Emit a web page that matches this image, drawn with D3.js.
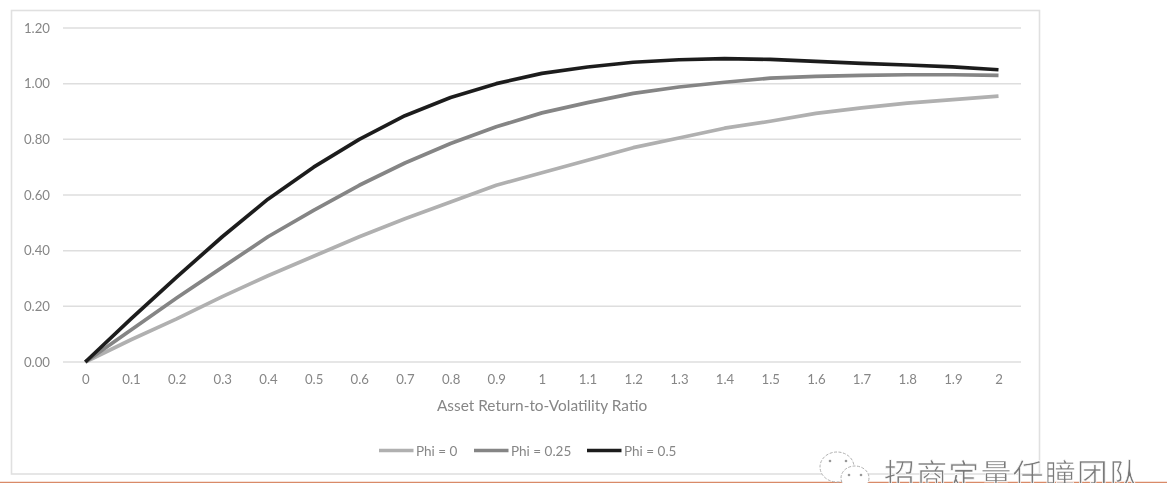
<!DOCTYPE html>
<html><head><meta charset="utf-8">
<script src="https://cdn.jsdelivr.net/npm/d3@7/dist/d3.min.js"></script>
<style>
html,body{margin:0;padding:0;background:#fff;overflow:hidden}
svg{display:block}
text{font-family:Lato,"Open Sans",sans-serif}
</style></head><body>
<svg id="c" width="1167" height="483"></svg>
<script>
const categories = ["0","0.1","0.2","0.3","0.4","0.5","0.6","0.7","0.8","0.9","1","1.1","1.2","1.3","1.4","1.5","1.6","1.7","1.8","1.9","2"];
const phi0 = [0,.08,.155,.235,.31,.38,.45,.515,.575,.635,.68,.725,.77,.805,.84,.865,.893,.913,.93,.943,.955];
const phi25 = [0,.115,.23,.34,.45,.545,.635,.715,.785,.845,.895,.932,.965,.988,1.005,1.02,1.026,1.03,1.032,1.032,1.03];
const phi50 = [0,.155,.305,.45,.585,.70,.80,.885,.95,1.0,1.037,1.06,1.077,1.086,1.09,1.087,1.08,1.073,1.067,1.06,1.05];
const seriesNames = ["Phi = 0","Phi = 0.25","Phi = 0.5"];
const seriesColors = ["#b0b0b0","#858585","#1f1f1f"];
const yTicks = [0,.2,.4,.6,.8,1,1.2];
const axisTitle = "Asset Return-to-Volatility Ratio";
const watermark = "招商定量任瞳团队";

const svg = d3.select("#c");
const defs = svg.append("defs");
defs.append("filter").attr("id","soft").append("feGaussianBlur").attr("stdDeviation",0.65);
const root = svg.append("g").attr("filter","url(#soft)");

const x = d3.scalePoint().domain(categories).range([85.3,998.5]);
const y = d3.scaleLinear().domain([0,1.2]).range([362,28]);

root.append("rect").attr("x",11.5).attr("y",10.5).attr("width",1028).attr("height",463.5)
  .attr("fill","#fff").attr("stroke","#e0e0e0").attr("stroke-width",1.6);

root.selectAll(".grid").data(yTicks).join("line").attr("class","grid")
  .attr("x1",63).attr("x2",1021).attr("y1",d=>y(d)).attr("y2",d=>y(d))
  .attr("stroke","#dedede").attr("stroke-width",1.5);

const yAxis = root.append("g").attr("transform","translate(50,0)")
  .call(d3.axisLeft(y).tickValues(yTicks).tickFormat(d3.format(".2f")).tickSize(0).tickPadding(0));
const xAxis = root.append("g").attr("transform","translate(0,362)")
  .call(d3.axisBottom(x).tickSize(0).tickPadding(13));
[yAxis,xAxis].forEach(a=>{
  a.select(".domain").remove();
  a.selectAll("text").attr("fill","#868686").style("font-size","13.2px").style("font-family","Lato,sans-serif");
});

root.append("text").attr("x",542).attr("y",411).attr("text-anchor","middle")
  .attr("fill","#868686").style("font-size","15.4px").text(axisTitle);

const line = d3.line().x((d,i)=>x(categories[i])).y(d=>y(d));
[phi0,phi25,phi50].forEach((s,i)=>{
  root.append("path").datum(s).attr("d",line).attr("fill","none")
    .attr("stroke",seriesColors[i]).attr("stroke-width",3.7).attr("stroke-linejoin","round");
});

const legendX = [379,474,587];
seriesNames.forEach((n,i)=>{
  root.append("line").attr("x1",legendX[i]).attr("x2",legendX[i]+34.5).attr("y1",450.5).attr("y2",450.5)
    .attr("stroke",seriesColors[i]).attr("stroke-width",3.7);
  root.append("text").attr("x",legendX[i]+37).attr("y",455.5).attr("fill","#868686")
    .style("font-size","13.5px").text(n);
});

// bottom rule
svg.append("line").attr("x1",0).attr("x2",1167).attr("y1",482.5).attr("y2",482.5)
  .attr("stroke","#d98a68").attr("stroke-width",1.6);

// watermark
const wm = svg.append("g").attr("filter","url(#soft)");
const icon = wm.append("g").attr("fill","#fff").attr("stroke","#b0b0b0").attr("stroke-width",1).attr("stroke-dasharray","3 1.5");
icon.append("ellipse").attr("cx",837).attr("cy",467).attr("rx",17).attr("ry",15);
icon.append("ellipse").attr("cx",855).attr("cy",478).attr("rx",14).attr("ry",12);
wm.selectAll(".eye").data([[830,461],[846,461],[849,475],[861,475]]).join("circle")
  .attr("cx",d=>d[0]).attr("cy",d=>d[1]).attr("r",1.3).attr("fill","#999");
wm.append("text").attr("x",884).attr("y",486).attr("textLength",256)
  .style("font-family","'Noto Sans CJK SC'").style("font-size","31px")
  .attr("fill","#7a7a7a").attr("stroke","#fff").attr("stroke-width",0.7).text(watermark);
</script>
</body></html>
